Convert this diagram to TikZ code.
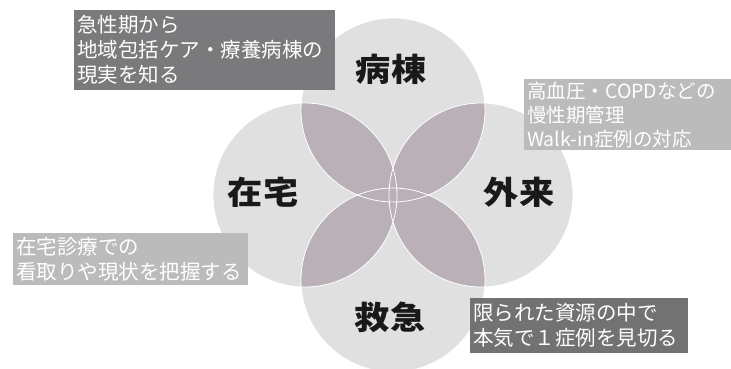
\documentclass[tikz,border=0pt]{standalone}
\usepackage{fontspec}
\newfontfamily\cjk{Noto Sans CJK JP}
\definecolor{circfill}{HTML}{E0E0E0}
\definecolor{lensfill}{HTML}{B9B0B8}
\definecolor{darkbox}{HTML}{7A7A7D}
\definecolor{darkbox2}{HTML}{727272}
\definecolor{lightbox}{HTML}{BBBBBB}
\tikzset{
  circ/.style={circle, minimum size=184pt, inner sep=0pt},
  lbl/.style={font=\cjk\bfseries\fontsize{32}{36}\selectfont, text=black!90, xscale=1.1},
  notebox/.style={anchor=north west, inner xsep=3pt, inner ysep=0pt, align=left,
    text=white, font=\cjk\fontsize{20.5}{25}\selectfont},
}
\begin{document}
\begin{tikzpicture}[x=1pt,y=-1pt]
\useasboundingbox (0,0) rectangle (731,369);
\fill[white] (0,0) rectangle (731,369);
% circle centres
\coordinate (cT) at (393,110);
\coordinate (cL) at (305,195);
\coordinate (cR) at (481,195);
\coordinate (cB) at (393,280);
\def\R{92}
% base circles
\foreach \c in {cT,cL,cR,cB}{\fill[circfill] (\c) circle (\R);}
% overlaps
\foreach \a/\b in {cT/cL,cT/cR,cB/cL,cB/cR,cT/cB,cL/cR}{
  \begin{scope}
    \clip (\a) circle (\R);
    \fill[lensfill] (\b) circle (\R);
  \end{scope}
}
% white rims
\foreach \c in {cT,cL,cR,cB}{\draw[white, line width=0.8pt] (\c) circle (\R);}
% circle nodes (labels)
\node[circ] (byoto) at (cT) {};
\node[circ] (zaitaku) at (cL) {};
\node[circ] (gairai) at (cR) {};
\node[circ] (kyukyu) at (cB) {};
\node[lbl] (tByoto) at (391,69) {病棟};
\node[lbl] (tZaitaku) at (263,192) {在宅};
\node[lbl] (tGairai) at (519,192) {外来};
\node[lbl] (tKyukyu) at (390,317) {救急};
% note boxes
\node[notebox, fill=darkbox, text width=255pt, minimum height=80pt] (n1) at (74,10)
  {急性期から\\地域包括ケア・療養病棟の\\現実を知る};
\node[notebox, fill=lightbox, text width=201pt, minimum height=71pt,
  font=\cjk\fontsize{19.5}{24}\selectfont] (n2) at (524,79)
  {高血圧・COPDなどの\\慢性期管理\\Walk-in症例の対応};
\node[notebox, fill=lightbox, text width=229pt, minimum height=52pt] (n3) at (13,233)
  {在宅診療での\\看取りや現状を把握する};
\node[notebox, fill=darkbox2, text width=212pt, minimum height=55pt] (n4) at (470,298)
  {限られた資源の中で\\本気で１症例を見切る};
\end{tikzpicture}
\end{document}
